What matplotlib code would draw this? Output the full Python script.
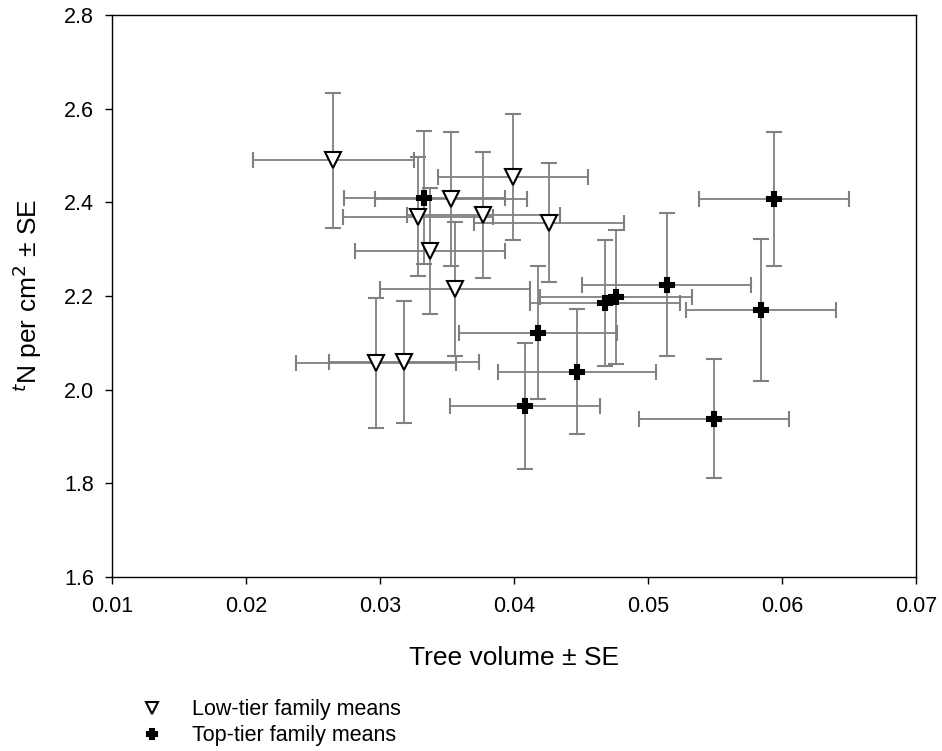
import matplotlib
matplotlib.use('Agg')
import matplotlib.pyplot as plt

plt.rcParams['font.family'] = ['Liberation Sans', 'DejaVu Sans']

# low-tier family means (x = tree volume, y = tN per cm2)
low_x = [0.0265, 0.0328, 0.0337, 0.0353, 0.0377, 0.0399, 0.0426, 0.0356, 0.0297, 0.0318]
low_y = [2.490, 2.369, 2.296, 2.407, 2.373, 2.454, 2.356, 2.215, 2.057, 2.059]
low_xerr = [0.0060, 0.0056, 0.0056, 0.0057, 0.0057, 0.0056, 0.0056, 0.0056, 0.0060, 0.0056]
low_yerr = [0.144, 0.127, 0.135, 0.143, 0.135, 0.135, 0.127, 0.143, 0.139, 0.130]

# top-tier family means
top_x = [0.0333, 0.0594, 0.0514, 0.0468, 0.0476, 0.0584, 0.0418, 0.0447, 0.0408, 0.0549]
top_y = [2.410, 2.407, 2.224, 2.185, 2.198, 2.170, 2.121, 2.038, 1.965, 1.938]
top_xerr = [0.0060, 0.0056, 0.0063, 0.0056, 0.0057, 0.0056, 0.0059, 0.0059, 0.0056, 0.0056]
top_yerr = [0.142, 0.143, 0.153, 0.135, 0.143, 0.152, 0.142, 0.134, 0.134, 0.127]

fig = plt.figure(figsize=(9.42, 7.51), dpi=100)
ax = fig.add_axes([0.119, 0.232, 0.8535, 0.748])

eb = dict(ecolor='#808080', elinewidth=1.3, capsize=6, capthick=1.3, linestyle='none')
ax.errorbar(low_x, low_y, xerr=low_xerr, yerr=low_yerr, fmt='v', mfc='white', mec='black',
            mew=1.5, ms=11, label='Low-tier family means', **eb)
ax.errorbar(top_x, top_y, xerr=top_xerr, yerr=top_yerr, fmt='P', mfc='black', mec='black',
            mew=1.5, ms=10.5, label='Top-tier family means', **eb)

ax.set_xlim(0.01, 0.07)
ax.set_ylim(1.6, 2.8)
ax.set_xticks([0.01, 0.02, 0.03, 0.04, 0.05, 0.06, 0.07])
ax.set_yticks([1.6, 1.8, 2.0, 2.2, 2.4, 2.6, 2.8])
ax.set_xticklabels(['0.01', '0.02', '0.03', '0.04', '0.05', '0.06', '0.07'])
ax.set_yticklabels(['1.6', '1.8', '2.0', '2.2', '2.4', '2.6', '2.8'])
ax.tick_params(direction='out', length=5, width=1, labelsize=15.5)
ax.tick_params(axis='x', pad=9)
ax.tick_params(axis='y', pad=8)
for s in ax.spines.values():
    s.set_linewidth(1)

ax.set_xlabel('Tree volume ± SE', fontsize=19, labelpad=21)
ax.set_ylabel('$^{t}$N per cm$^{2}$ ± SE', fontsize=19, labelpad=14)

h, l = ax.get_legend_handles_labels()
h = [x[0] for x in h]
fig.legend(h, l, loc='upper left', bbox_to_anchor=(0.150, 0.069), frameon=False, fontsize=15.5,
           handlelength=1.0, handletextpad=1.35, labelspacing=0.24, borderaxespad=0, borderpad=0,
           markerscale=0.75)

plt.savefig('out.png', dpi=100)
